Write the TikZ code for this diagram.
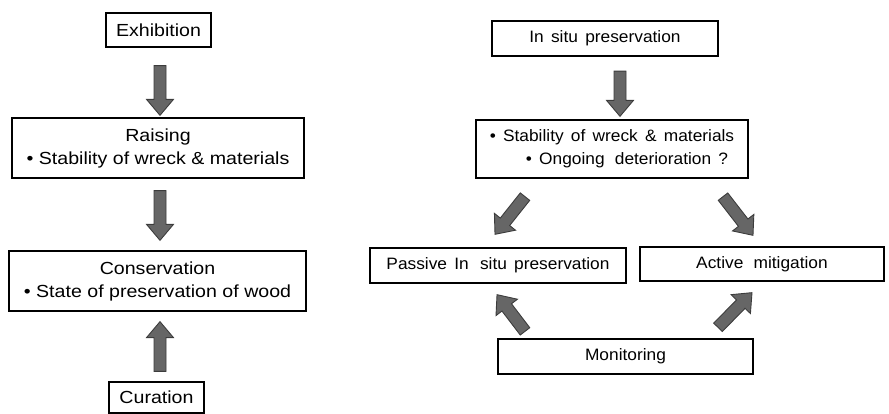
\documentclass[tikz,border=0pt]{standalone}
\usepackage{fontspec}
\setmainfont{Liberation Sans}
\newfontfamily\leftfont{Liberation Sans}[FakeStretch=1.12]
\newfontfamily\rightfont{Liberation Sans}[FakeStretch=1.05, WordSpace=1.5]
\usetikzlibrary{calc}
\definecolor{arrowfill}{HTML}{666666}
\definecolor{arrowedge}{HTML}{3C3C3C}
\tikzset{
  box/.style={draw=black, line width=1.3pt, fill=white, inner sep=0pt, align=center},
  lbox/.style={box, font=\leftfont\fontsize{17.5}{23}\selectfont},
  rbox/.style={box, font=\rightfont\fontsize{16.5}{23}\selectfont},
  barrow/.style={fill=arrowfill, draw=arrowedge, line width=0.9pt, line join=miter},
}
\newcommand{\blockarrow}[2]{%
  \draw[barrow] let \p1=#1, \p2=#2, \n1={atan2(\y2-\y1,\x2-\x1)}, \n2={veclen(\x2-\x1,\y2-\y1)} in
    [shift={(\p1)}, rotate=\n1] (0,-6) -- (\n2-16,-6) -- (\n2-16,-13.5) -- (\n2,0) -- (\n2-16,13.5) -- (\n2-16,6) -- (0,6) -- cycle;}
\begin{document}
\begin{tikzpicture}[x=1pt,y=1pt]
\useasboundingbox (0,0) rectangle (889,414);
% left column
\node[lbox, minimum width=105pt, minimum height=34pt] (ex) at (158.5,384) {Exhibition};
\node[lbox, minimum width=292pt, minimum height=60pt] (rais) at (158,266) {Raising\\\textbullet\ Stability of wreck \& materials};
\node[lbox, minimum width=297pt, minimum height=60pt] (cons) at (157.5,133) {Conservation\\\textbullet\ State of preservation of wood};
\node[lbox, minimum width=95pt, minimum height=31pt] (cur) at (156.5,16.5) {Curation};
\blockarrow{([shift={(1.5,-18)}]ex.south)}{([shift={(2,2)}]rais.north)}
\blockarrow{([shift={(2,-12)}]rais.south)}{([shift={(2.5,10)}]cons.north)}
\blockarrow{([shift={(3.5,10)}]cur.north)}{([shift={(2.5,-10)}]cons.south)}
% right part
\node[rbox, minimum width=226pt, minimum height=35pt] (insitu) at (605,375.5) {In situ preservation};
\node[rbox, minimum width=272pt, minimum height=58pt] (stab) at (612,265) {\textbullet\ Stability of wreck \& materials\\\hspace*{30pt}\textbullet\ Ongoing\hspace{3pt} deterioration ?};
\node[rbox, minimum width=256pt, minimum height=35pt] (pas) at (498,148.5) {Passive In\hspace{4pt} situ preservation};
\node[rbox, minimum width=244pt, minimum height=34pt] (act) at (762,150) {Active\hspace{3pt} mitigation};
\node[rbox, minimum width=255pt, minimum height=35pt] (mon) at (625.5,57.5) {Monitoring};
\blockarrow{([shift={(15,-14.5)}]insitu.south)}{([shift={(8,3)}]stab.north)}
\blockarrow{([shift={(-87,-18)}]stab.south)}{([shift={(-3,13)}]pas.north)}
\blockarrow{([shift={(111,-18)}]stab.south)}{([shift={(-9,11)}]act.north)}
\blockarrow{([shift={(-100.5,7)}]mon.north)}{([shift={(-1,-11)}]pas.south)}
\blockarrow{([shift={(92.5,11)}]mon.north)}{([shift={(-10,-11)}]act.south)}
\end{tikzpicture}
\end{document}
